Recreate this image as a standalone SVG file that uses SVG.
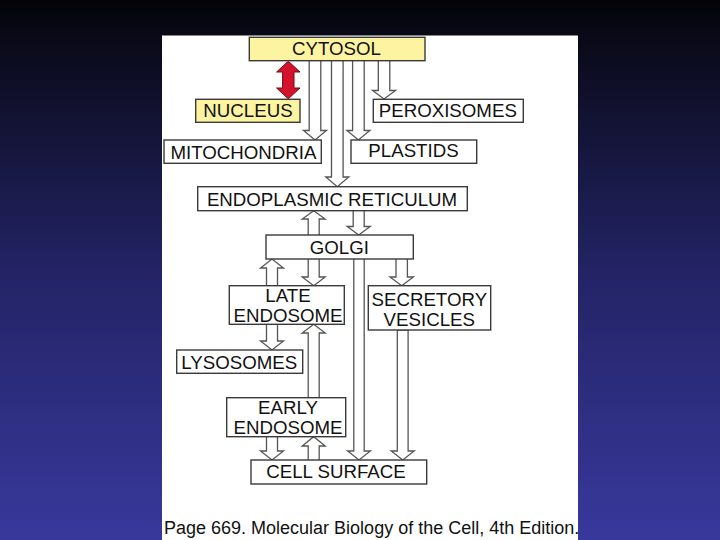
<svg xmlns="http://www.w3.org/2000/svg" width="720" height="540" viewBox="0 0 720 540">
<defs>
<linearGradient id="bg" x1="0" y1="0" x2="0" y2="1">
<stop offset="0" stop-color="#030308"/>
<stop offset="0.08" stop-color="#0a0a1a"/>
<stop offset="0.5" stop-color="#232365"/>
<stop offset="1" stop-color="#38389c"/>
</linearGradient>
<style>
.box{fill:#fff;stroke:#3a3a3a;stroke-width:1.4}
.yel{fill:#fdf4a2;stroke:#3a3a3a;stroke-width:1.4}
.lbl{font-family:"Liberation Sans",Arial,Helvetica,sans-serif;font-size:18.7px;fill:#111;text-anchor:middle}
.arr{fill:#fff;stroke:#555;stroke-width:1.3;stroke-linejoin:miter}
.cap{font-family:"Liberation Sans",Arial,Helvetica,sans-serif;font-size:18px;fill:#111}
</style>
</defs>
<rect x="0" y="0" width="720" height="540" fill="url(#bg)"/>
<rect x="162" y="35.5" width="416" height="504.5" fill="#fff"/>

<g id="connectors">
<!-- CYTOSOL -> MITOCHONDRIA -->
<path class="arr" d="M309.2,60.7 V130.5 H303.5 L315,140 L326.5,130.5 H320.8 V60.7"/>
<!-- CYTOSOL -> ER -->
<path class="arr" d="M331.5,60.7 V177 H325.8 L337.3,186.7 L348.8,177 H343.1 V60.7"/>
<!-- CYTOSOL -> PLASTIDS -->
<path class="arr" d="M352.6,60.7 V130.5 H346.9 L358.4,140 L369.9,130.5 H364.2 V60.7"/>
<!-- CYTOSOL -> PEROXISOMES -->
<path class="arr" d="M378.3,60.7 V90.5 H372.6 L384,99 L395.5,90.5 H389.8 V60.7"/>
<!-- GOLGI -> ER (up) -->
<path class="arr" d="M308.2,235 V219 H302.2 L313.7,210.7 L325.2,219 H319.2 V235"/>
<!-- ER -> GOLGI (down) -->
<path class="arr" d="M353.2,210.7 V226.5 H347.2 L358.7,235 L370.2,226.5 H364.2 V210.7"/>
<!-- LATE ENDOSOME -> GOLGI (up) -->
<path class="arr" d="M266.5,285.7 V268 H260.5 L272,259 L283.5,268 H277.5 V285.7"/>
<!-- GOLGI -> LATE ENDOSOME (down) -->
<path class="arr" d="M308.2,259 V277 H302.2 L313.7,285.7 L325.2,277 H319.2 V259"/>
<!-- GOLGI -> CELL SURFACE (down) -->
<path class="arr" d="M353.8,259 V451 H347.6 L359,460 L370.4,451 H364.2 V259"/>
<!-- GOLGI -> SECRETORY VESICLES (down) -->
<path class="arr" d="M396,259 V277 H390 L401.7,285.7 L413.4,277 H407.4 V259"/>
<!-- LATE ENDOSOME -> LYSOSOMES (down) -->
<path class="arr" d="M266.5,324.3 V341 H260.5 L272,350 L283.5,341 H277.5 V324.3"/>
<!-- EARLY ENDOSOME -> LATE ENDOSOME (up) -->
<path class="arr" d="M308.2,397.7 V333 H302.2 L313.7,324.3 L325.2,333 H319.2 V397.7"/>
<!-- SECRETORY VESICLES -> CELL SURFACE (down) -->
<path class="arr" d="M397.3,330 V451 H391.2 L402.7,460 L414.2,451 H408.1 V330 Z"/>
<!-- EARLY ENDOSOME -> CELL SURFACE (down) -->
<path class="arr" d="M266.5,436.7 V451 H260.5 L272,460 L283.5,451 H277.5 V436.7"/>
<!-- CELL SURFACE -> EARLY ENDOSOME (up) -->
<path class="arr" d="M308.2,460 V446 H302.2 L313.7,436.7 L325.2,446 H319.2 V460"/>
<!-- CYTOSOL <-> NUCLEUS -->
<path d="M288.3,61.2 L300,72 H294 V88 H300 L288.3,98.8 L276.6,88 H282.6 V72 H276.6 Z" fill="#d5122c" stroke="#6a0a14" stroke-width="1"/>
</g>

<g id="cytosol">
<rect class="yel" x="249.3" y="37.3" width="175.7" height="23.4"/>
<text class="lbl" x="336.5" y="55">CYTOSOL</text>
</g>
<g id="nucleus">
<rect class="yel" x="195.7" y="99.3" width="104.3" height="23"/>
<text class="lbl" x="248" y="117">NUCLEUS</text>
</g>
<g id="peroxisomes">
<rect class="box" x="373.3" y="99.3" width="150" height="23"/>
<text class="lbl" x="447.8" y="117">PEROXISOMES</text>
</g>
<g id="mitochondria">
<rect class="box" x="164" y="140" width="157.3" height="23.3"/>
<text class="lbl" x="243.5" y="159">MITOCHONDRIA</text>
</g>
<g id="plastids">
<rect class="box" x="351" y="140" width="125.7" height="23.3"/>
<text class="lbl" x="413.5" y="157">PLASTIDS</text>
</g>
<g id="er">
<rect class="box" x="197.7" y="186.7" width="269.6" height="24"/>
<text class="lbl" x="332" y="206">ENDOPLASMIC RETICULUM</text>
</g>
<g id="golgi">
<rect class="box" x="266" y="235" width="147.3" height="24"/>
<text class="lbl" x="339.3" y="253.5">GOLGI</text>
</g>
<g id="late-endosome">
<rect class="box" x="229.3" y="285.7" width="115" height="38.6"/>
<text class="lbl" x="288" y="302.3">LATE</text>
<text class="lbl" x="288" y="321.5">ENDOSOME</text>
</g>
<g id="secretory-vesicles">
<rect class="box" x="368.3" y="285.7" width="122.4" height="44.3"/>
<text class="lbl" x="429.3" y="306">SECRETORY</text>
<text class="lbl" x="429.3" y="325.7">VESICLES</text>
</g>
<g id="lysosomes">
<rect class="box" x="176.7" y="350" width="126" height="23.3"/>
<text class="lbl" x="239.3" y="369.3">LYSOSOMES</text>
</g>
<g id="early-endosome">
<rect class="box" x="226.7" y="397.7" width="119" height="39"/>
<text class="lbl" x="288" y="414.2">EARLY</text>
<text class="lbl" x="288" y="434.2">ENDOSOME</text>
</g>
<g id="cell-surface">
<rect class="box" x="251" y="460" width="175.7" height="24"/>
<text class="lbl" x="336" y="477.5">CELL SURFACE</text>
</g>

<text class="cap" x="164" y="534.3">Page 669. Molecular Biology of the Cell, 4th Edition.</text>
</svg>
